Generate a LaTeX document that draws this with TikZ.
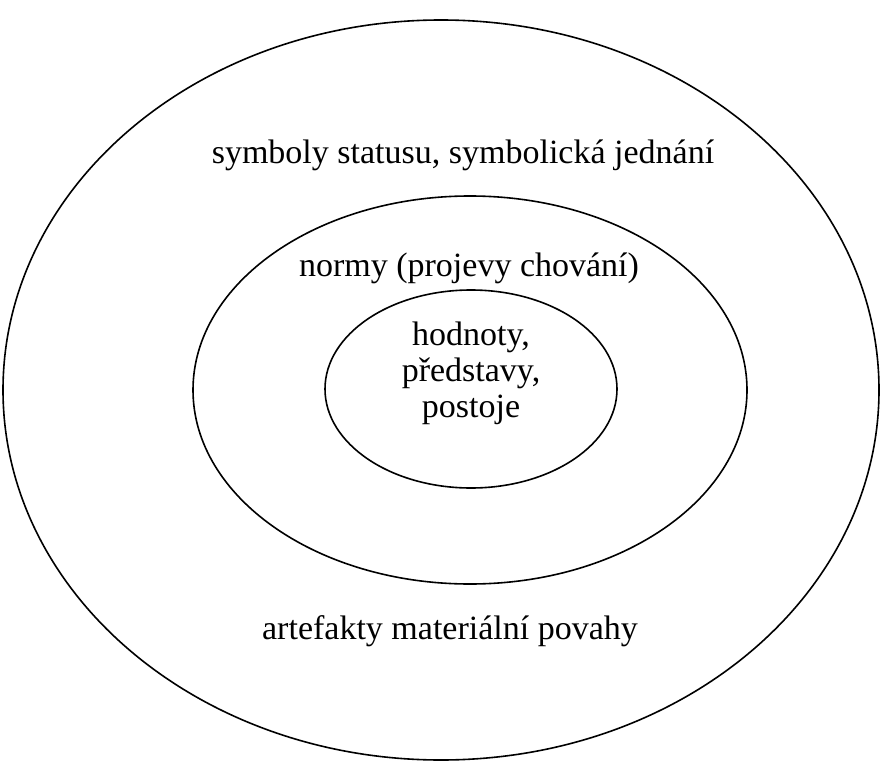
\documentclass[tikz,border=0pt]{standalone}
\usepackage{fontspec}
\setmainfont{Liberation Serif}
\usetikzlibrary{shapes.geometric}
\begin{document}
\begin{tikzpicture}[x=1pt,y=-1pt,
  ring/.style={draw=black,line width=1.6pt},
  lbl/.style={font=\fontsize{34}{36}\selectfont,align=center,inner sep=0pt}]
\useasboundingbox (0,0) rectangle (882,762);
\draw[ring] (441,390) ellipse [x radius=438, y radius=370];
\draw[ring] (470,390) ellipse [x radius=277, y radius=194];
\draw[ring] (471,389) ellipse [x radius=146, y radius=99];
\node[lbl] (outer) at (463,155) {symboly statusu, symbolická jednání};
\node[lbl] (middle) at (469,268) {normy (projevy chování)};
\node[lbl] (inner) at (471,373) {hodnoty,\\představy,\\postoje};
\node[lbl] (bottom) at (450,631) {artefakty materiální povahy};
\end{tikzpicture}
\end{document}
